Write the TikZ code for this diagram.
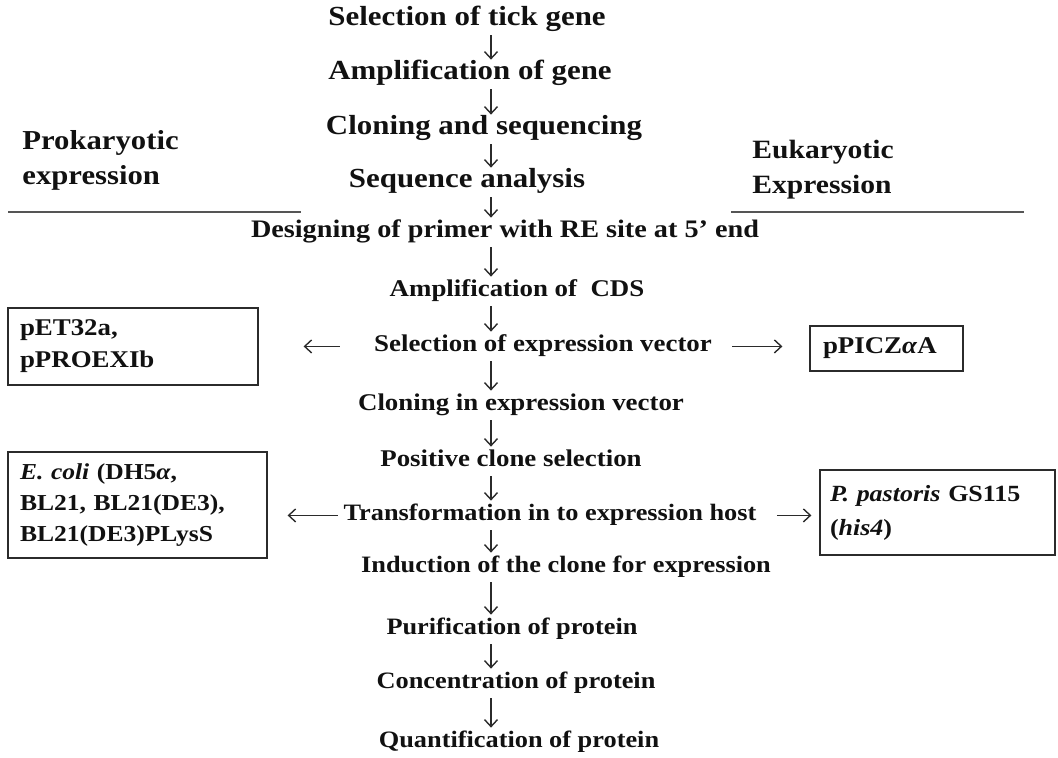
\documentclass[tikz,border=0pt]{standalone}
\usepackage{fontspec}
\setmainfont{Liberation Serif}[FakeStretch=1.12]
\usetikzlibrary{arrows.meta,positioning,calc}
\definecolor{flInk}{HTML}{111111}
\definecolor{flEdge}{HTML}{2B2B2B}
\definecolor{flRule}{HTML}{555555}
\tikzset{
  stp/.style={anchor=base, inner sep=1.5pt, text height=0.7em, text depth=0.25em, text=flInk},
  stpA/.style={stp, font=\fontsize{13.8}{16}\selectfont\bfseries},
  stpB/.style={stp, font=\fontsize{12}{15}\selectfont\bfseries},
  stpC/.style={stp, font=\fontsize{11.75}{14}\selectfont\bfseries},
  hdr/.style={anchor=north west, inner sep=0pt, align=left, text=flInk, font=\fontsize{13.7}{17.5}\selectfont\bfseries},
  vbox/.style={draw=flEdge, line width=0.6pt, inner sep=6pt, align=left, text=flInk},
  arr/.style={-{Straight Barb[length=3.5pt,width=6.5pt]}, line width=0.7pt, draw=flEdge},
  rule/.style={draw=flRule, line width=0.8pt},
}
\begin{document}
\begin{tikzpicture}[x=0.5pt, y=-0.5pt]
  \useasboundingbox (0,0) rectangle (1058,757);
  % main flow
  \node[stpA] (s1) at (467,25) {Selection of tick gene};
  \node[stpA] (s2) at (470,79) {Amplification of gene};
  \node[stpA] (s3) at (484,134) {Cloning and sequencing};
  \node[stpA] (s4) at (467,187) {Sequence analysis};
  \node[stp, font=\fontsize{12.6}{15}\selectfont\bfseries] (s5) at (505,237) {Designing of primer with RE site at 5’ end};
  \node[stpB] (s6) at (517,296) {Amplification of~~CDS};
  \node[stpB] (s7) at (543,351) {Selection of expression vector};
  \node[stpB] (s8) at (521,410) {Cloning in expression vector};
  \node[stpB] (s9) at (511,466) {Positive clone selection};
  \node[stpC] (s10) at (550,520) {Transformation in to expression host};
  \node[stpC] (s11) at (566,572) {Induction of the clone for expression};
  \node[stpC] (s12) at (512,634) {Purification of protein};
  \node[stpC] (s13) at (516,688) {Concentration of protein};
  \node[stpC] (s14) at (519,747) {Quantification of protein};

  \coordinate (ax) at (491,0);
  \foreach \a/\b in {s1/s2, s2/s3, s3/s4, s4/s5, s5/s6, s6/s7, s7/s8, s8/s9, s9/s10, s10/s11, s11/s12, s12/s13, s13/s14}{
    \draw[arr, shorten <=1pt, shorten >=1pt] (\a.south -| ax) -- (\b.north -| ax);
  }

  % two branches
  \node[hdr] (pro) at (22,130.5) {Prokaryotic\\expression};
  \node[hdr, font=\fontsize{13.2}{17.5}\selectfont\bfseries] (euk) at (752,140) {Eukaryotic\\Expression};
  \draw[rule] (8,212) -- (301,212);
  \draw[rule] (731,212) -- (1024,212);

  \node[vbox, text width=113pt, minimum height=37.5pt, font=\fontsize{12}{16}\selectfont\bfseries] (pet) at (133,346.5) {pET32a,\\pPROEXIb};
  \node[vbox, text width=63.5pt, inner xsep=6.5pt, minimum height=21.5pt, font=\fontsize{12}{14}\selectfont\bfseries] (pic) at (886.5,348.5) {pPICZ\textit{α}A};
  \node[vbox, text width=117.5pt, minimum height=53pt, font=\fontsize{11.4}{15.3}\selectfont\bfseries] (eco) at (137.5,505) {\textit{E. coli} (DH5\textit{α},\\BL21, BL21(DE3),\\BL21(DE3)PLysS};
  \node[vbox, text width=107.5pt, minimum height=42.5pt, inner xsep=5pt, font=\fontsize{11.6}{17}\selectfont\bfseries] (pas) at (937.5,512.5) {\textit{P. pastoris} GS115\\(\textit{his4})};

  \draw[arr, shorten <=15.5pt, shorten >=22.5pt] (s7.mid west) -- (s7.mid west -| pet.east);
  \draw[arr, shorten <=8.5pt, shorten >=13.5pt] (s7.mid east) -- (s7.mid east -| pic.west);
  \draw[arr, shorten <=1.25pt, shorten >=10pt] (s10.mid west) -- (s10.mid west -| eco.east);
  \draw[arr, shorten <=8.5pt, shorten >=4pt] (s10.mid east) -- (s10.mid east -| pas.west);
\end{tikzpicture}
\end{document}
